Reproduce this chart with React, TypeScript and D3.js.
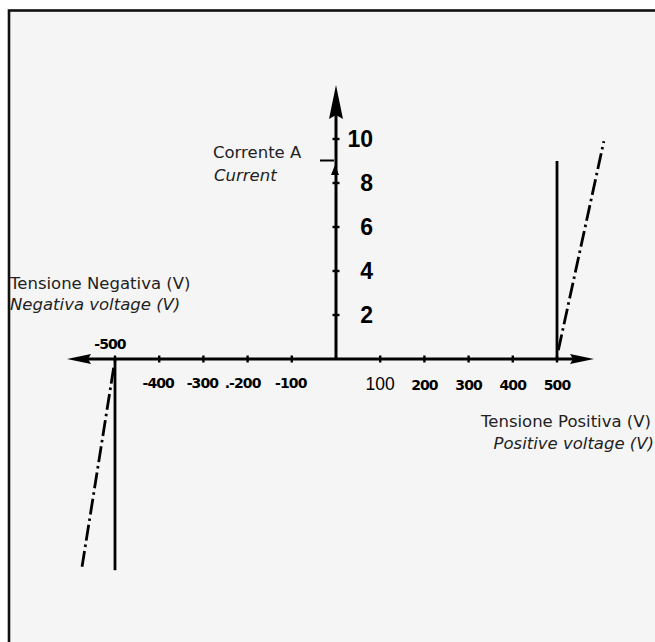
import React from 'react';
import * as d3 from 'd3';

// Axis ticks (V and A)
const negTicks = [-500, -400, -300, -200, -100];
const posTicks = [100, 200, 300, 400, 500];
const currentTicks = [2, 4, 6, 8, 10];
const negTickLabels = ['-400', '-300', '.-200', '-100'];
const posTickLabels = ['100', '200', '300', '400', '500'];

// Characteristic curves [voltage, current]
const solidPositive: [number, number][] = [[500, 0], [500, 9.0]];
const dashPositive: [number, number][] = [[503, 0.4], [606, 9.9]];
const solidNegative: [number, number][] = [[-500, 0], [-500, -9.6]];
const dashNegative: [number, number][] = [[-503, -0.4], [-575, -9.5]];

const W = 655;
const H = 642;

export default function App() {
  const x = d3.scaleLinear().domain([-500, 500]).range([115, 557]);
  const y = d3.scaleLinear().domain([0, 10]).range([359, 139]);
  const line = d3.line<[number, number]>().x(d => x(d[0])).y(d => y(d[1]));

  const x0 = x(0);
  const y0 = y(0);
  const sans = '"DejaVu Sans", sans-serif';
  const heavy = '"DejaVu Sans", sans-serif';

  return (
    <svg width={W} height={H} style={{ position: 'fixed', left: 0, top: 0, background: '#fff' }}>
      {/* frame */}
      <rect x={9} y={10.5} width={700} height={700} fill="#f5f5f5" stroke="#111" strokeWidth={2.6} />

      {/* x axis */}
      <line x1={85} x2={575} y1={y0} y2={y0} stroke="#000" strokeWidth={3} />
      <path d={`M67,${y0} L91,${y0 - 5} L88,${y0} L91,${y0 + 5} Z`} fill="#000" />
      <path d={`M594,${y0} L570,${y0 - 5} L573,${y0} L570,${y0 + 5} Z`} fill="#000" />
      {[...negTicks, ...posTicks].map(t => (
        <line key={t} x1={x(t)} x2={x(t)} y1={y0 - 3.5} y2={y0 + 3.5} stroke="#000" strokeWidth={2.4} />
      ))}

      {/* y axis */}
      <line x1={x0} x2={x0} y1={y0} y2={110} stroke="#000" strokeWidth={3} />
      <path d={`M${x0},85 L${x0 + 7},119 L${x0},115 L${x0 - 7},119 Z`} fill="#000" />
      {currentTicks.map(t => (
        <line key={t} x1={x0 - 3.5} x2={x0 + 3.5} y1={y(t)} y2={y(t)} stroke="#000" strokeWidth={2.4} />
      ))}
      {currentTicks.map(t => (
        <text key={t} x={373} y={y(t) + 8} textAnchor="end" fontFamily={'"Liberation Sans", Arial, sans-serif'}
          fontWeight="bold" fontSize={23} fill="#000">{t}</text>
      ))}

      {/* pointer near Corrente */}
      <line x1={320} x2={334} y1={160.5} y2={160.5} stroke="#000" strokeWidth={2} />
      <path d={`M${x0 - 1},165 L${x0 + 3},175 L${x0 - 5},175 Z`} fill="#000" />

      {/* x tick labels */}
      <text x={110} y={349} textAnchor="middle" fontFamily={heavy} fontWeight="900" fontSize={14}
        letterSpacing={-0.9} fill="#000">-500</text>
      {negTickLabels.map((l, i) => (
        <text key={l} x={x(negTicks[i + 1]) - 1 - (l.startsWith('.') ? 4 : 0)} y={388} textAnchor="middle" fontFamily={heavy}
          fontWeight="900" fontSize={14} letterSpacing={-0.9} fill="#000">{l}</text>
      ))}
      {posTickLabels.map((l, i) => (
        <text key={l} x={x(posTicks[i])} y={390} textAnchor="middle"
          fontFamily={i === 0 ? '"Liberation Sans", Arial, sans-serif' : heavy}
          fontWeight={i === 0 ? 'normal' : '900'} fontSize={i === 0 ? 17.5 : 14}
          letterSpacing={i === 0 ? 0 : -0.9} fill="#000">{l}</text>
      ))}

      {/* curves */}
      <path d={line(solidPositive) || ''} stroke="#000" strokeWidth={2.8} fill="none" />
      <path d={line(solidNegative) || ''} stroke="#000" strokeWidth={2.8} fill="none" />
      <path d={line(dashPositive) || ''} stroke="#000" strokeWidth={2.8} fill="none" strokeDasharray="16 4 2.5 4" />
      <path d={line(dashNegative) || ''} stroke="#000" strokeWidth={2.8} fill="none" strokeDasharray="16 4 2.5 4" />

      {/* axis titles */}
      <text x={213} y={158} fontFamily={sans} fontSize={16.5} fill="#222">Corrente A</text>
      <text x={214} y={181} fontFamily={sans} fontSize={16.5} fontStyle="italic" fill="#222">Current</text>
      <text x={10} y={289} fontFamily={sans} fontSize={16.5} fill="#222">Tensione Negativa (V)</text>
      <text x={10} y={310} fontFamily={sans} fontSize={16.5} fontStyle="italic" fill="#222">Negativa voltage (V)</text>
      <text x={651} y={427} textAnchor="end" fontFamily={sans} fontSize={16.5} fill="#222">Tensione Positiva (V)</text>
      <text x={654} y={449} textAnchor="end" fontFamily={sans} fontSize={16.5} fontStyle="italic" fill="#222">Positive voltage (V)</text>
    </svg>
  );
}
